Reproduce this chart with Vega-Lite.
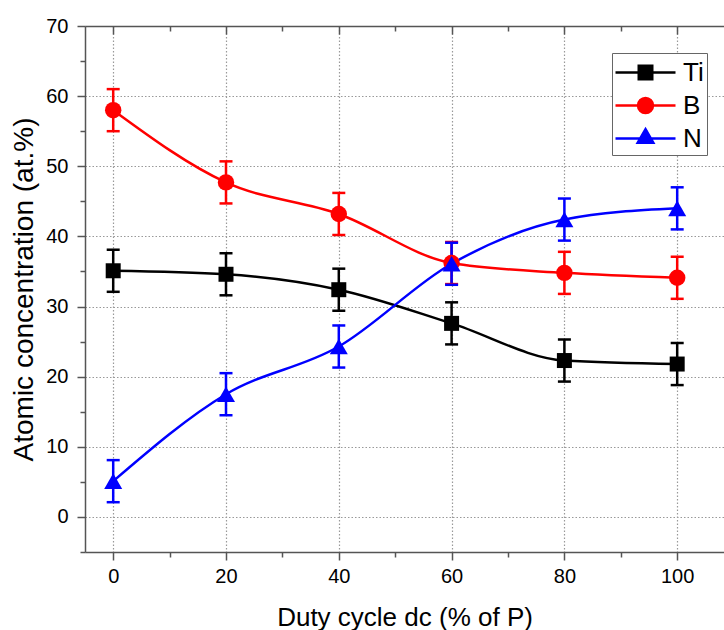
{
  "$schema": "https://vega.github.io/schema/vega-lite/v6.json",
  "width": 639,
  "height": 526,
  "autosize": "none",
  "padding": {"left": 85, "top": 26, "right": 0, "bottom": 78},
  "background": "white",
  "config": {"view": {"stroke": null}, "font": "Liberation Sans"},
  "data": {"values": [
    {"series":"Ti","dc":0,"c":35.1,"lo":32.1,"hi":38.1},
    {"series":"Ti","dc":20,"c":34.6,"lo":31.6,"hi":37.6},
    {"series":"Ti","dc":40,"c":32.4,"lo":29.4,"hi":35.4},
    {"series":"Ti","dc":60,"c":27.6,"lo":24.6,"hi":30.6},
    {"series":"Ti","dc":80,"c":22.3,"lo":19.3,"hi":25.3},
    {"series":"Ti","dc":100,"c":21.8,"lo":18.8,"hi":24.8},
    {"series":"B","dc":0,"c":58.0,"lo":55.0,"hi":61.0},
    {"series":"B","dc":20,"c":47.7,"lo":44.7,"hi":50.7},
    {"series":"B","dc":40,"c":43.2,"lo":40.2,"hi":46.2},
    {"series":"B","dc":60,"c":36.2,"lo":33.2,"hi":39.2},
    {"series":"B","dc":80,"c":34.8,"lo":31.8,"hi":37.8},
    {"series":"B","dc":100,"c":34.1,"lo":31.1,"hi":37.1},
    {"series":"N","dc":0,"c":5.1,"lo":2.1,"hi":8.1},
    {"series":"N","dc":20,"c":17.5,"lo":14.5,"hi":20.5},
    {"series":"N","dc":40,"c":24.3,"lo":21.3,"hi":27.3},
    {"series":"N","dc":60,"c":36.1,"lo":33.1,"hi":39.1},
    {"series":"N","dc":80,"c":42.4,"lo":39.4,"hi":45.4},
    {"series":"N","dc":100,"c":44.0,"lo":41.0,"hi":47.0}
  ]},
  "layer": [
    {
      "encoding": {
        "x": {
          "field": "dc", "type": "quantitative",
          "scale": {"domain": [-5, 108.3], "nice": false, "zero": false},
          "axis": {
            "orient": "bottom",
            "values": [0,10,20,30,40,50,60,70,80,90,100],
            "labelExpr": "datum.value % 20 === 0 ? datum.label : ''",
            "labelOverlap": false,
            "tickSize": {"condition": {"test": "datum.value % 20 === 0", "value": 8}, "value": 5},
            "grid": true,
            "gridOpacity": {"condition": {"test": "datum.value % 20 === 0", "value": 1}, "value": 0},
            "gridColor": "#999999", "gridDash": [1.5, 2], "gridWidth": 1.2,
            "domainColor": "#555555", "tickColor": "#555555", "domainWidth": 1.5, "tickWidth": 1.5,
            "labelFontSize": 20, "labelColor": "black", "labelPadding": 6,
            "title": "Duty cycle dc (% of P)", "titleFontSize": 26, "titleFontWeight": "normal",
            "titleColor": "black", "titlePadding": 18
          }
        },
        "y": {
          "field": "c", "type": "quantitative",
          "scale": {"domain": [-5, 70], "nice": false, "zero": false},
          "axis": {
            "values": [-5,0,5,10,15,20,25,30,35,40,45,50,55,60,65,70],
            "labelExpr": "datum.value % 10 === 0 ? datum.label : ''",
            "labelOverlap": false,
            "tickSize": {"condition": {"test": "datum.value % 10 === 0", "value": 8}, "value": 5},
            "grid": true,
            "gridOpacity": {"condition": {"test": "datum.value % 10 === 0 && datum.value >= 0", "value": 1}, "value": 0},
            "gridColor": "#999999", "gridDash": [1.5, 2], "gridWidth": 1.2,
            "domainColor": "#555555", "tickColor": "#555555", "domainWidth": 1.5, "tickWidth": 1.5,
            "labelFontSize": 20, "labelColor": "black", "labelPadding": 9,
            "title": "Atomic concentration (at.%)", "titleFontSize": 28, "titleFontWeight": "normal",
            "titleColor": "black", "titlePadding": 7
          }
        },
        "color": {"field": "series", "type": "nominal",
          "scale": {"domain": ["Ti","B","N"], "range": ["#000000","#ff0000","#0000ff"]},
          "legend": {
            "orient": "none", "legendX": 527, "legendY": 27, "title": null,
            "symbolSize": 900, "symbolStrokeWidth": 2.5,
            "labelFontSize": 26, "labelColor": "black", "labelFont": "Liberation Sans",
            "padding": 3, "rowPadding": 3, "symbolOffset": 14, "labelOffset": 21,
            "strokeColor": "#666666", "fillColor": "white", "cornerRadius": 0,
            "encode": {"symbols": {"update": {
              "stroke": {"scale": "color", "field": "value"},
              "fill": {"scale": "color", "field": "value"},
              "strokeWidth": {"value": 2.5},
              "opacity": {"value": 1}
            }}}
          }
        }
      },
      "layer": [
        {
          "mark": {"type": "rule", "strokeWidth": 2.5},
          "encoding": {
            "y": {"field": "lo", "type": "quantitative"},
            "y2": {"field": "hi"}
          }
        },
        {
          "mark": {"type": "tick", "orient": "horizontal", "size": 13, "thickness": 2.5, "opacity": 1},
          "encoding": {
            "y": {"field": "lo", "type": "quantitative"}
          }
        },
        {
          "mark": {"type": "tick", "orient": "horizontal", "size": 13, "thickness": 2.5, "opacity": 1},
          "encoding": {
            "y": {"field": "hi", "type": "quantitative"}
          }
        },
        {
          "mark": {"type": "line", "strokeWidth": 2.5, "interpolate": "monotone"}
        },
        {
          "transform": [{"filter": "datum.series === 'Ti'"}],
          "mark": {"type": "point", "shape": "square", "filled": true, "size": 225, "opacity": 1}
        },
        {
          "transform": [{"filter": "datum.series === 'B'"}],
          "mark": {"type": "point", "shape": "circle", "filled": true, "size": 270, "opacity": 1}
        },
        {
          "transform": [{"filter": "datum.series === 'N'"}],
          "mark": {"type": "point", "shape": "triangle-up", "filled": true, "size": 324, "opacity": 1}
        },
        {
          "transform": [{"filter": "false"}],
          "mark": {"type": "point", "filled": true, "opacity": 1},
          "encoding": {
            "shape": {
              "field": "series", "type": "nominal",
              "scale": {"domain": ["Ti","B","N"], "range": [
                "M-2,0H2M-0.45,-0.45H0.45V0.45H-0.45Z",
                "M-2,0H2M-0.5,0A0.5,0.5,0,1,0,0.5,0A0.5,0.5,0,1,0,-0.5,0Z",
                "M-2,0H2M0,-0.62L0.52,0.28H-0.52Z"
              ]},
              "legend": {
                "orient": "none", "legendX": 527, "legendY": 27, "title": null,
                "symbolSize": 900, "symbolStrokeWidth": 2.5,
                "labelFontSize": 26, "labelColor": "black", "labelFont": "Liberation Sans",
                "padding": 3, "rowPadding": 3, "symbolOffset": 14, "labelOffset": 21,
                "strokeColor": "#666666", "fillColor": "white", "cornerRadius": 0
              }
            }
          }
        }
      ]
    },
    {
      "transform": [{"filter": "false"}],
      "mark": {"type": "point"},
      "encoding": {
        "x": {
          "field": "dc", "type": "quantitative",
          "axis": {
            "orient": "top",
            "values": [0,10,20,30,40,50,60,70,80,90,100],
            "labels": false, "grid": false, "title": null,
            "tickSize": {"condition": {"test": "datum.value % 20 === 0", "value": -8}, "value": -5},
            "domainColor": "#555555", "tickColor": "#555555", "domainWidth": 1.5, "tickWidth": 1.5
          }
        }
      }
    }
  ],
  "resolve": {"axis": {"x": "independent"}}
}
